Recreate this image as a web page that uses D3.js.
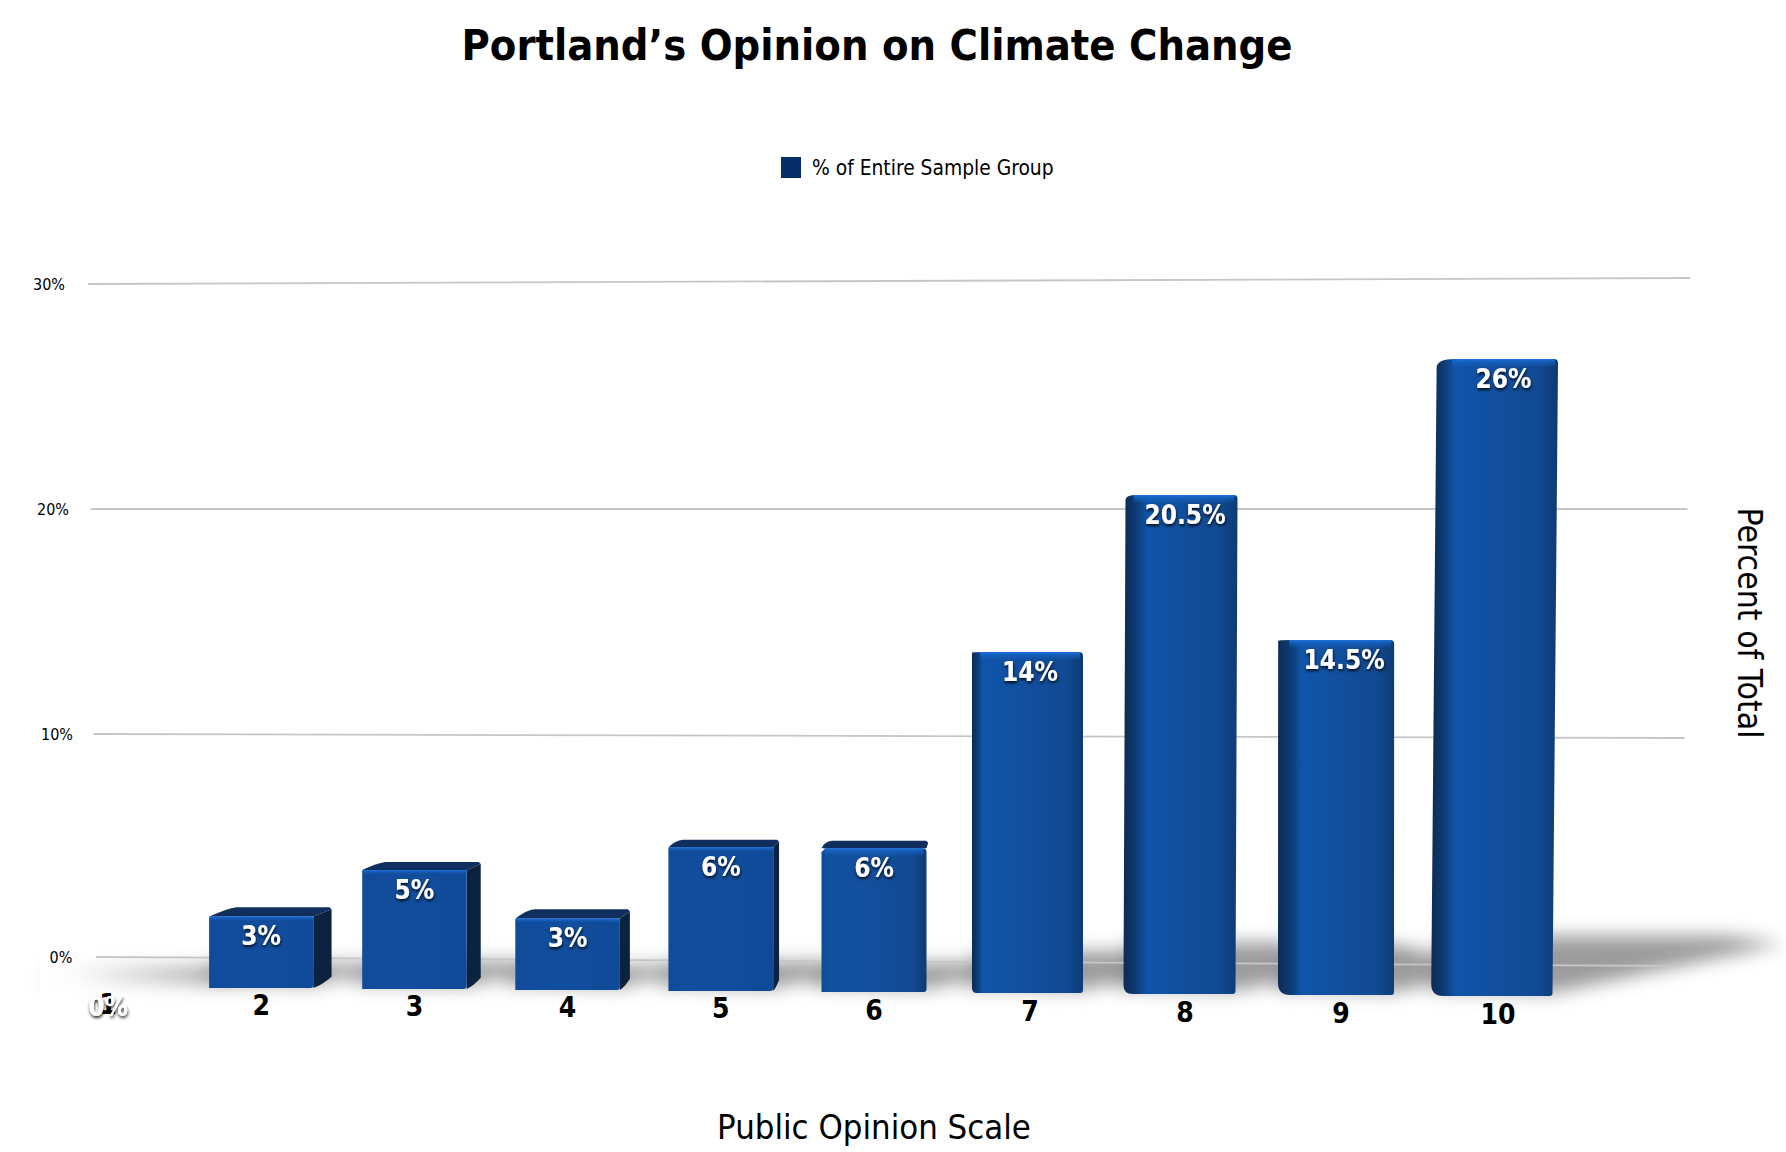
<!DOCTYPE html>
<html>
<head>
<meta charset="utf-8">
<style>
html,body{margin:0;padding:0;background:#fff}
svg{display:block}
text{font-family:"DejaVu Sans Condensed","DejaVu Sans",sans-serif;font-stretch:condensed}
</style>
<script src="https://cdn.jsdelivr.net/npm/d3@7/dist/d3.min.js"></script>
</head>
<body>
<script>
const titleText = "Portland’s Opinion on Climate Change";
const legendText = "% of Entire Sample Group";
const xTitle = "Public Opinion Scale";
const yTitle = "Percent of Total";
const categories = [1,2,3,4,5,6,7,8,9,10];
const values = [0,3,5,3,6,6,14,20.5,14.5,26];
const valueLabels = ["0%","3%","5%","3%","6%","6%","14%","20.5%","14.5%","26%"];
const gridTicks = [0,10,20,30];
const gridTickLabels = ["0%","10%","20%","30%"];

const W = 1786, H = 1152;
const svg = d3.select("body").append("svg").attr("width",W).attr("height",H);
const defs = svg.append("defs");

// scales (front plane of the slightly tilted 3-D scene)
const x = d3.scaleLinear().domain([1,6,7,8,10]).range([108,874,1030,1182,1498]);
const halfW = d3.scaleLinear().domain([1,6,10]).range([52,52.5,54.5]);
const baseY = d3.scaleLinear().domain([1,10]).range([987,996]);
const h = d3.scaleLinear().domain([0,5,14,14.5,20.5,26]).range([0,119,341,355,499,637]);
const skew = d3.scaleLinear().domain([0,14,20.5,26]).range([0,0,2,5.5]);
const labelShift = d3.scaleLinear().domain([1,7,8,9,10]).range([0,0,1,4,0]);
const catShift = d3.scaleLinear().domain([1,7,8,9,10]).range([0,0,3,1,0]);
// back wall scales for the gridlines
const gridL = d3.scaleLinear().domain(gridTicks).range([957,734,509,284]);
const gridR = d3.scaleLinear().domain(gridTicks).range([966,738,509,278]);
const gridXL = d3.scaleLinear().domain([0,30]).range([96,88]);
const gridXR = d3.scaleLinear().domain([0,30]).range([1682,1690]);
const tickX = d3.scaleLinear().domain([0,30]).range([61,49]);

const K = 0.027, VX = 990, VY = 570;
const back = (px,py)=>[px+K*(VX-px), py+K*(VY-py)];
const leftBack = (px,py)=>{const p=back(px,py);return [Math.min(p[0],px-5),p[1]];};

// defs
function lin(id,stops,vertical){
  const g = defs.append("linearGradient").attr("id",id);
  if(vertical) g.attr("x2",0).attr("y2",1);
  stops.forEach(s=>{
    const st = g.append("stop").attr("offset",s[0]).attr("stop-color",s[1]);
    if(s[2]!==undefined) st.attr("stop-opacity",s[2]);
  });
}
lin("faceLow",[[0,"#114c9b"],[.5,"#124e9e"],[1,"#0f4a98"]]);
lin("face6",[[0,"#104a96"],[.06,"#11509f"],[.55,"#124e9c"],[.86,"#114a92"],[1,"#0e3b74"]]);
lin("gloss",[[0,"#1b70dc",1],[.4,"#1764c4",.7],[1,"#1764c4",0]],true);
lin("fadeL",[[0,"#fff",1],[.2,"#fff",.92],[1,"#fff",0]]);
const blur = defs.append("filter").attr("id","blur").attr("x","-30%").attr("y","-60%").attr("width","160%").attr("height","220%");
blur.append("feGaussianBlur").attr("stdDeviation",9);
const ds = defs.append("filter").attr("id","ts").attr("x","-20%").attr("y","-20%").attr("width","140%").attr("height","150%");
ds.append("feDropShadow").attr("dx",0.5).attr("dy",2).attr("stdDeviation",1.5).attr("flood-color","#000").attr("flood-opacity",.85);

const rows = categories.map((c,i)=>({c,v:values[i],label:valueLabels[i]}));
const geo = d=>{
  const bot = baseY(d.c), ht = h(d.v), top = bot-ht, sk = skew(d.v), hw = halfW(d.c), cx = x(d.c);
  return {bot,top,ht,sk,fl:cx-hw,fr:cx+hw,tl:cx-hw+sk,tr:cx+hw+sk,cx};
};
const bars = rows.filter(d=>d.v>0);
const tall = bars.filter(d=>d.c>=7);

// a gradient per tall bar, across its whole visible width
defs.selectAll("linearGradient.tall").data(tall).join(enter=>enter.append("linearGradient"))
  .attr("id",d=>"tall"+d.c).attr("gradientUnits","userSpaceOnUse")
  .attr("x1",d=>leftBack(geo(d).fl,geo(d).bot)[0]).attr("x2",d=>geo(d).fr+geo(d).sk).attr("y1",0).attr("y2",0)
  .each(function(d){
    const g = geo(d), x0 = leftBack(g.fl,g.bot)[0], w = g.fr+g.sk-x0, ramp = (d.c===7?11:24)/w;
    [[0,"#0c2b52"],[ramp*.5,"#0d3b72"],[ramp,"#0f55aa"],[.55,"#124e9c"],[.85,"#114a92"],[1,"#0e3b74"]]
      .forEach(s=>d3.select(this).append("stop").attr("offset",s[0]).attr("stop-color",s[1]));
  });

// ground shadows
svg.append("g").attr("filter","url(#blur)").selectAll("path").data(rows).join("path")
  .attr("fill","#8a8a8a").attr("opacity",.85)
  .attr("d",d=>{
    const g = geo(d), up = 20+1.55*d.v, L = 34+7.6*d.v;
    const right = d.c===1 ? 240 : g.fr;
    return d3.line()([[g.fl-12,g.bot-6],[right,g.bot-3],[right+L,g.bot-up+8],[right+L*.75,g.bot-up],[g.fl,g.bot-up]]);
  });
// the shadow fades out at the far left
svg.append("rect").attr("x",40).attr("y",935).attr("width",180).attr("height",75).attr("fill","url(#fadeL)");

// gridlines + tick labels
svg.append("g").selectAll("line").data(gridTicks).join("line")
  .attr("x1",gridXL).attr("x2",gridXR).attr("y1",gridL).attr("y2",gridR)
  .attr("stroke","#c6c6c6").attr("stroke-width",1.8);
svg.append("g").selectAll("text").data(gridTicks).join("text")
  .attr("x",tickX).attr("y",t=>gridL(t)+6).attr("text-anchor","middle")
  .attr("font-size",16).attr("fill","#000").text((t,i)=>gridTickLabels[i]);

// bars
const bg = svg.append("g").selectAll("g").data(bars).join("g");
// top face of the short bars
bg.filter(d=>d.c<7).append("path").attr("fill","#102f5e").attr("d",d=>{
  const g = geo(d), a = back(g.tl,g.top), b = back(g.tr,g.top);
  return `M${g.tl},${g.top}Q${a[0]-2},${a[1]+1} ${a[0]+6},${a[1]}L${b[0]-2},${b[1]}L${b[0]},${b[1]+2}L${g.tr},${g.top}Z`;
});
// right side face of the short bars
bg.filter(d=>d.c<6).append("path").attr("fill","#0c2340").attr("d",d=>{
  const g = geo(d), a = back(g.tr,g.top), b = back(g.fr,g.bot);
  return `M${g.tr},${g.top}L${a[0]},${a[1]+2}L${b[0]},${b[1]}Q${b[0]-(b[0]-g.fr)/2},${b[1]+8} ${g.fr},${g.bot}Z`;
});
// front face of the short bars
bg.filter(d=>d.c<7).append("path").attr("fill",d=>d.c===6?"url(#face6)":"url(#faceLow)").attr("d",d=>{
  const g = geo(d), r = d.c===6?4:1.5;
  return `M${g.fl},${g.bot}L${g.tl},${g.top+r}L${g.tl+r},${g.top}L${g.tr-r},${g.top}Q${g.tr},${g.top} ${g.tr},${g.top+r}L${g.fr},${g.bot-3}Q${g.fr},${g.bot} ${g.fr-3},${g.bot}Z`;
});
// tall bars: one rounded body, the left side blending into the front
const cornerBottom = d3.scaleOrdinal().domain([7,8,9,10]).range([5,9,12,12]);
bg.filter(d=>d.c>=7).append("path").attr("fill",d=>`url(#tall${d.c})`).attr("d",d=>{
  const g = geo(d), a = leftBack(g.tl,g.top), b = leftBack(g.fl,g.bot), r = 4, rb = cornerBottom(d.c);
  return `M${g.tl+6},${g.top}L${g.tr-r},${g.top}Q${g.tr},${g.top} ${g.tr},${g.top+r}L${g.fr},${g.bot-3}Q${g.fr},${g.bot} ${g.fr-3},${g.bot}`+
         `L${b[0]+rb},${g.bot}Q${b[0]},${g.bot} ${b[0]},${g.bot-rb}L${a[0]},${a[1]+3}Q${a[0]},${g.top} ${g.tl+6},${g.top}Z`;
});
// bright upper edge
bg.append("rect").attr("fill","url(#gloss)")
  .attr("x",d=>geo(d).tl+(d.c>=6?3:0)).attr("width",d=>geo(d).tr-geo(d).tl-(d.c>=6?6:0))
  .attr("y",d=>geo(d).top).attr("height",d=>d.c>=6?8:4);

// category labels
const catY = d3.scaleLinear().domain([1,10]).range([1014,1024]);
svg.append("g").selectAll("text").data(categories).join("text")
  .attr("x",c=>x(c)+catShift(c)).attr("y",c=>catY(c)).attr("text-anchor","middle")
  .attr("font-size",28).attr("font-weight",700).attr("fill","#000").text(c=>c);

// value labels
svg.append("g").attr("filter","url(#ts)").selectAll("text").data(rows).join("text")
  .attr("x",d=>geo(d).cx+geo(d).sk+labelShift(d.c)).attr("y",d=>geo(d).top+28.5).attr("text-anchor","middle")
  .attr("font-size",26).attr("font-weight",700).attr("fill","#fff").text(d=>d.label);

// title, legend, axis titles
svg.append("text").attr("x",877).attr("y",60).attr("text-anchor","middle")
  .attr("font-size",43).attr("font-weight",700).attr("fill","#000").text(titleText);
svg.append("rect").attr("x",781).attr("y",157).attr("width",20).attr("height",21).attr("fill","#062d65");
svg.append("text").attr("x",812).attr("y",175).attr("font-size",20.8).attr("fill","#000").text(legendText);
svg.append("text").attr("x",874).attr("y",1139).attr("text-anchor","middle")
  .attr("font-size",34.4).attr("fill","#000").text(xTitle);
svg.append("text").attr("transform","translate(1738,623) rotate(90)").attr("text-anchor","middle")
  .attr("font-size",33.5).attr("fill","#000").text(yTitle);
</script>
</body>
</html>
